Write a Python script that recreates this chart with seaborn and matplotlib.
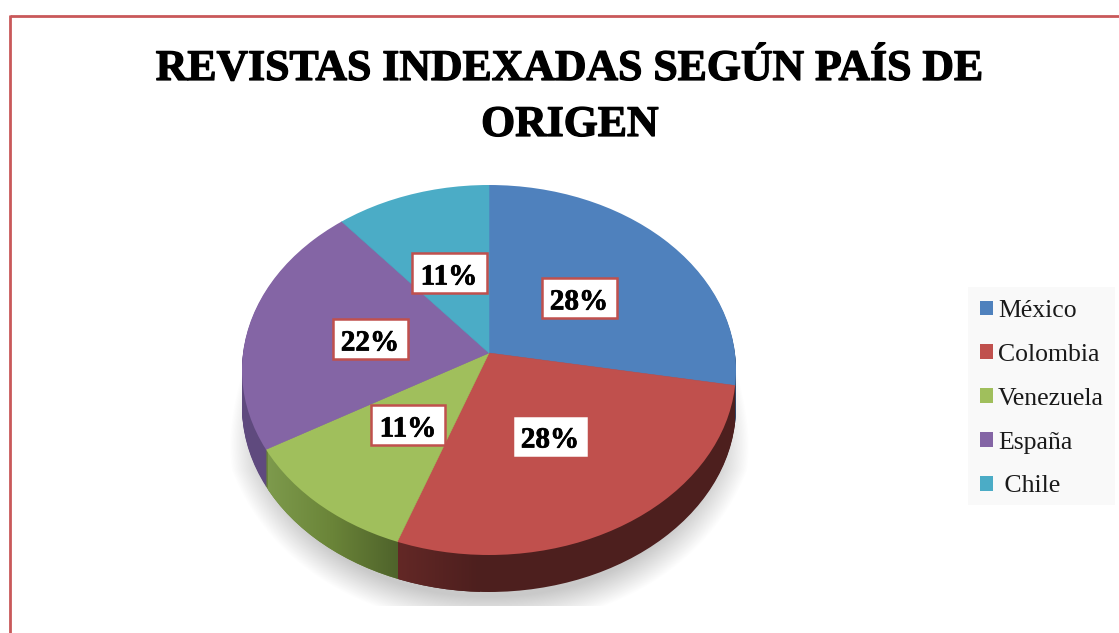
import numpy as np
import matplotlib
matplotlib.use("Agg")
import matplotlib.pyplot as plt
import matplotlib.patheffects as pe
from matplotlib.patches import Circle, Rectangle, Patch
from matplotlib.colors import LinearSegmentedColormap
import seaborn as sns

countries = ["México", "Colombia", "Venezuela", "España", " Chile"]
journals = [5, 5, 2, 4, 2]
title_lines = ["REVISTAS INDEXADAS SEGÚN PAÍS DE", "ORIGEN"]

top_hex = ["#4f81bd", "#c0504d", "#a0bf5c", "#8465a5", "#4bacc6"]
side_hex = ["#2f4d71", "#4d1f1e", "#6a8438", "#5f4a7e", "#2d6776"]
label_xy = [(579, 298), (550, 436), (408, 425), (370, 339), (449, 273)]
label_box = [(75, 40), (71, 37), (74, 40), (75, 40), (75, 40)]
label_edges = ["#c0504d", "white", "#c0504d", "#c0504d", "#c0504d"]

W, H = 1119, 633
CX, CY, RX, RY = 489, 370, 247, 185
APEX_PX = 17
DEPTH = 37
FRAME = "#c9585a"

sns.set_theme(style="white")
plt.rcParams["font.family"] = ["Liberation Serif", "DejaVu Serif"]
top_colors = sns.color_palette(top_hex)
side_colors = sns.color_palette(side_hex)

fig = plt.figure(figsize=(W / 100, H / 100), dpi=100, facecolor="white")
ax = fig.add_axes([0, 0, 1, 1])
nx = lambda px: (px - CX) / RX
ny = lambda py: (CY - py) / RY


def draw_pie(colors, drop, zorder):
    clip = Circle((0, -drop / RY), 1, transform=ax.transData)
    wedges, _ = ax.pie(
        journals, colors=colors, startangle=90, counterclock=False, radius=1.35,
        center=(0, (APEX_PX - drop) / RY),
        wedgeprops=dict(linewidth=0.4, zorder=zorder),
    )
    for w in wedges:
        w.set_edgecolor(w.get_facecolor())
        w.set_clip_on(True)
        w.set_clip_path(clip)


# soft ground shadow
px, py = np.meshgrid(np.arange(200, 790.0), np.arange(360, 606.0))
t = np.clip((py - 370) / 100, 0, 1)
u = np.abs(px - CX) / (247 + 26 * t)
v = np.clip(py - 385, 0, None) / 240
r = (u ** 2.1 + v ** 2.1) ** (1 / 2.1)
alpha = np.clip((1 - r) / 0.12, 0, 1)
rgba = np.zeros(px.shape + (4,))
rgba[..., :3] = 0.79
rgba[..., 3] = alpha
ax.imshow(rgba, extent=(nx(200), nx(790), ny(606), ny(360)), origin="upper",
          zorder=0, aspect="auto", interpolation="bilinear")

# extruded wall
for d in range(DEPTH, 0, -1):
    draw_pie(side_colors, d, 1)

# horizontal shading of the wall
bottom_clip = Circle((0, -DEPTH / RY), 1, transform=ax.transData)
green_cmap = LinearSegmentedColormap.from_list("g", ["#7d9a4c", "#6a8438", "#4f632b"])
im = ax.imshow(np.linspace(0, 1, 128)[None, :], cmap=green_cmap,
               extent=(nx(268), nx(398), ny(600), ny(440)), zorder=2, aspect="auto")
im.set_clip_path(bottom_clip)
red_cmap = LinearSegmentedColormap.from_list("r", ["#632826", "#4d1f1e"])
im2 = ax.imshow(np.linspace(0, 1, 128)[None, :], cmap=red_cmap,
                extent=(nx(398), nx(480), ny(600), ny(500)), zorder=2, aspect="auto")
bottom_clip2 = Circle((0, -DEPTH / RY), 1, transform=ax.transData)
im2.set_clip_path(bottom_clip2)

# top face
draw_pie(top_colors, 0, 3)

ax.set_xlim(nx(0), nx(W))
ax.set_ylim(ny(H), ny(0))
ax.set_aspect("auto")
ax.axis("off")

# overlay in pixel coordinates
ov = fig.add_axes([0, 0, 1, 1], facecolor="none")
ov.set_xlim(0, W)
ov.set_ylim(H, 0)
ov.axis("off")

ov.plot([10, W], [15.5, 15.5], color=FRAME, lw=2, solid_capstyle="butt")
ov.plot([10, 10], [15, H], color=FRAME, lw=2, solid_capstyle="butt")

heavy = [pe.withStroke(linewidth=0.9, foreground="black")]
for line, ly in zip(title_lines, (69, 125)):
    ov.text(570, ly, line, ha="center", va="center", fontsize=31.5,
            fontweight="bold", color="black", path_effects=heavy)

total = sum(journals)
for value, (lx, ly), (bw, bh), edge in zip(journals, label_xy, label_box, label_edges):
    ov.add_patch(Rectangle((lx - bw / 2, ly - bh / 2), bw, bh, facecolor="white",
                           edgecolor=edge, linewidth=1.8, zorder=5))
    ov.text(lx, ly + 1, f"{round(100 * value / total)}%", ha="center", va="center_baseline",
            fontsize=21, fontweight="bold", color="black", zorder=6,
            path_effects=[pe.withStroke(linewidth=0.5, foreground="black")])

# legend
ov.add_patch(Rectangle((968, 287), 147, 218, facecolor="#f9f9f9", edgecolor="none", zorder=4))
handles = [Patch(facecolor=c, edgecolor="none", label=n) for c, n in zip(top_colors, countries)]
leg = ov.legend(handles=handles, loc="upper left", bbox_to_anchor=(980 / W, 1 - 300 / H),
                bbox_transform=fig.transFigure, frameon=False, fontsize=18.5,
                borderaxespad=0, borderpad=0, handlelength=0.5, handleheight=0.5,
                handletextpad=0.2, labelspacing=0.85)
leg.set_zorder(5)
for txt in leg.get_texts():
    txt.set_color("#1a1a1a")

fig.savefig("out.png", dpi=100)
